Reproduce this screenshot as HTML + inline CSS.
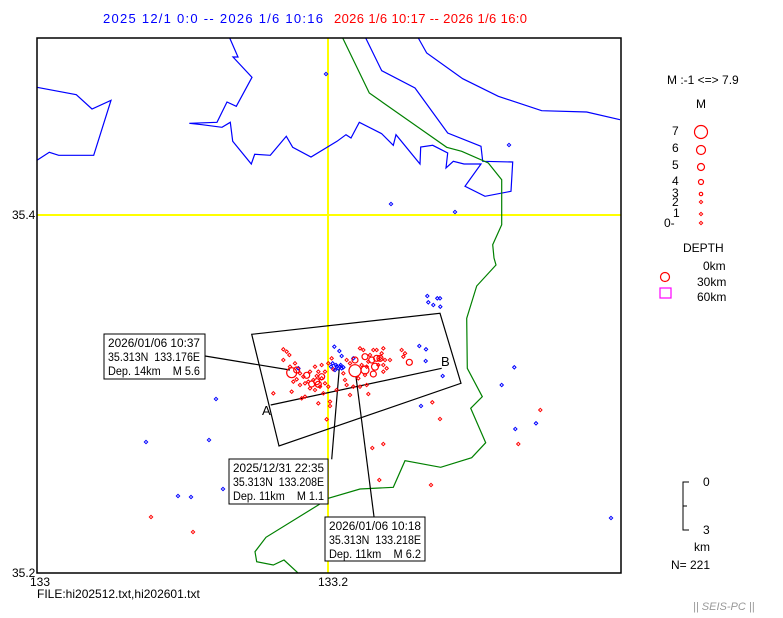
<!DOCTYPE html>
<html><head><meta charset="utf-8"><style>
body{margin:0;background:#fff}
svg{display:block;font-family:"Liberation Sans",sans-serif}
</style></head><body>
<svg id="s" width="783" height="618" xmlns="http://www.w3.org/2000/svg">
<rect width="783" height="618" fill="#fff"/>
<text x="103" y="23" font-size="13" fill="#0000ff" textLength="220" lengthAdjust="spacing">2025 12/1 0:0 -- 2026 1/6 10:16</text>
<text x="334" y="23" font-size="13" fill="#ff0000" textLength="193" lengthAdjust="spacing">2026 1/6 10:17 -- 2026 1/6 16:0</text>
<g fill="none" stroke-width="1.2">
<line x1="328" y1="38" x2="328" y2="573" stroke="#ffff00" stroke-width="2"/>
<line x1="37" y1="215" x2="621" y2="215" stroke="#ffff00" stroke-width="2"/>
<polyline stroke="#0000ff" points="37,87.3 76.3,94.7 92,109 111,100.3 93.7,155.3 58.7,155.3 49.3,152.3 37,160.3"/>
<polyline stroke="#0000ff" points="229.7,38 238,57 233,57 252,77.3 236.3,106.3 227,102 217,122.3 189.3,123.3 202,124.7 222,127.3 230.3,122.3 232.7,141.3 251.3,164 254.7,154.3 270.3,155.3 286.3,136.3 292.7,147.3 311,157 337,141.3 346,134.7 351,138 359.3,122.3 381.7,133.7 393.3,145.3 396,134.7 420,164 420.7,147 432.7,145.3 447.7,153 446,168 453.3,161.3 464,164 481,164 465,186.3 485,196.3 511,191.3 512.7,162 482.7,161.3 481,146.3 447.7,133 415,88 381.7,70.7 365.7,38"/>
<polyline stroke="#0000ff" points="418.3,38 426.7,53 462.7,78.7 498.3,96.3 541.7,110.7 586.7,112 620,119.7"/>
<polyline stroke="#008000" points="342.7,38 369.3,93 446.7,147.3 461.7,151.3 488.3,163 501.7,179.7 501.7,224.7 492.7,244.7 494,258 496,265 476.7,286 466.7,318.3 467.3,368.3 482.3,396.7 470.7,408.3 485.7,442.7 471.7,457.7 440.7,467.3 405,460.7 393.3,487.3 360,489 328.3,498.3 318.3,505 266,537.3 255,551.7 256.7,561.7 273.3,565 284,560 297.7,572.7"/>
</g>
<g fill="none" stroke="#000" stroke-width="1.2">
<polygon points="251.7,334.3 440,313.3 461,383.3 279,446"/>
<line x1="270.7" y1="405" x2="441.7" y2="368.3"/>
<line x1="205" y1="356" x2="290" y2="370"/>
<line x1="339.3" y1="368.3" x2="331.7" y2="459.3"/>
<line x1="356" y1="376.7" x2="374" y2="516.7"/>
</g>
<text x="262" y="415" font-size="13">A</text>
<text x="441" y="366" font-size="13">B</text>
<g id="ev"></g>
<rect x="37" y="38" width="584" height="535" fill="none" stroke="#000" stroke-width="1.5"/>
<g font-size="11.5" fill="#000">
<rect x="104" y="334" width="101" height="45" fill="#fff" stroke="#000"/>
<text x="108" y="347" textLength="92" lengthAdjust="spacingAndGlyphs">2026/01/06 10:37</text><text x="108" y="361" textLength="92" lengthAdjust="spacingAndGlyphs">35.313N&#160;&#160;133.176E</text><text x="108" y="375" textLength="92" lengthAdjust="spacingAndGlyphs">Dep. 14km&#160;&#160;&#160;&#160;M 5.6</text>
<rect x="229" y="459" width="99" height="45" fill="#fff" stroke="#000"/>
<text x="233" y="472" textLength="91" lengthAdjust="spacingAndGlyphs">2025/12/31 22:35</text><text x="233" y="486" textLength="91" lengthAdjust="spacingAndGlyphs">35.313N&#160;&#160;133.208E</text><text x="233" y="500" textLength="91" lengthAdjust="spacingAndGlyphs">Dep. 11km&#160;&#160;&#160;&#160;M 1.1</text>
<rect x="325" y="517" width="100" height="44" fill="#fff" stroke="#000"/>
<text x="329" y="530" textLength="92" lengthAdjust="spacingAndGlyphs">2026/01/06 10:18</text><text x="329" y="544" textLength="92" lengthAdjust="spacingAndGlyphs">35.313N&#160;&#160;133.218E</text><text x="329" y="558" textLength="92" lengthAdjust="spacingAndGlyphs">Dep. 11km&#160;&#160;&#160;&#160;M 6.2</text>
</g>
<g font-size="12" fill="#000">
<text x="12" y="219">35.4</text>
<text x="12" y="577">35.2</text>
<text x="30" y="586">133</text>
<text x="318" y="586">133.2</text>
<text x="37" y="598">FILE:hi202512.txt,hi202601.txt</text>
<text x="667" y="84">M :-1 &lt;=&gt; 7.9</text>
<text x="696" y="108">M</text>
<text x="672" y="135">7</text><text x="672" y="152">6</text><text x="672" y="169">5</text><text x="672" y="185">4</text><text x="672" y="197">3</text><text x="672" y="206">2</text><text x="673" y="217">1</text><text x="664" y="227">0-</text>
<text x="683" y="252">DEPTH</text>
<text x="703" y="270">0km</text><text x="697" y="286">30km</text><text x="697" y="301">60km</text>
<text x="703" y="486">0</text><text x="703" y="534">3</text><text x="694" y="551">km</text>
<text x="671" y="569">N= 221</text>
<text x="693" y="610" font-style="italic" fill="#999" font-size="11">|| SEIS-PC ||</text>
</g>
<g fill="none" stroke="#ff0000" stroke-width="1.2">
<circle cx="701" cy="132" r="6.5"/><circle cx="701" cy="150" r="4.5"/><circle cx="701" cy="167" r="3.5"/><circle cx="701" cy="182" r="2.5"/><circle cx="701" cy="194" r="1.7"/>
<circle cx="665" cy="277" r="4.5"/>
</g>
<rect x="660" y="288" width="11" height="10" fill="none" stroke="#ff00ff" stroke-width="1.2"/>
<polyline points="689,482 683,482 683,530 689,530" fill="none" stroke="#000"/>
<line x1="683" y1="506" x2="687" y2="506" stroke="#000"/>
</svg>
<script>
var g=document.getElementById('ev'),ns="http://www.w3.org/2000/svg";
function dia(x,y,c){var p=document.createElementNS(ns,'polygon');p.setAttribute('points',(x)+','+(y-1.7)+' '+(x+1.7)+','+y+' '+x+','+(y+1.7)+' '+(x-1.7)+','+y);p.setAttribute('fill','none');p.setAttribute('stroke',c);g.appendChild(p);}
function cir(x,y,r){var p=document.createElementNS(ns,'circle');p.setAttribute('cx',x);p.setAttribute('cy',y);p.setAttribute('r',r);p.setAttribute('fill','none');p.setAttribute('stroke','#f00');p.setAttribute('stroke-width','1.2');g.appendChild(p);}
var B=[[326,74],[391,204],[455,212],[509,145],[216,399],[146,442],[209,440],[223,489],[178,496],[191,497],[611,518],[514.3,367.3],[501.7,385],[536,423.3],[515.3,429],[421,406],[442.7,376],[425.7,361],[426,349.3],[419.3,346],[427.3,296],[428.3,302.3],[433.3,305],[437.3,298.3],[440,298.3],[440.3,306.7]];
var R=[[151,517],[193,532],[540.3,410],[518.3,444],[432.3,402.3],[440,419],[383.3,444],[372.3,448],[379.3,480],[431,485]];
var C=[[100,298],[110,305],[100,330],[118,315],[145,355],[140,388],[150,405],[180,415],[165,440],[155,445],[205,460],[240,455],[240,468],[230,508],[70,430],[125,425],[215,345],[225,365],[235,340],[245,325],[250,358],[290,330],[300,340],[330,295],[340,300],[355,335],[390,325],[400,295],[380,300],[400,345],[400,365],[455,300],[465,310],[460,320],[260,420],[290,405],[310,410],[330,410],[350,405],[355,432],[300,435],[235,410],[220,430],[195,350],[205,365],[160,380],[175,395],[190,390],[210,410],[215,385],[280,370],[350,350],[360,315],[385,345],[395,310],[420,330],[135,340],[150,370],[130,395],[165,400],[195,420],[225,400],[285,390],[325,385],[345,375],[405,330],[410,355],[370,300],[335,345],[200,378],[180,365],[120,350]];
var CB=[[253,290],[268,303],[275,318],[248,340],[260,350],[265,355],[255,360],[270,350],[275,355],[280,352],[310,325],[145,355],[243,350],[258,345],[272,345]];
var CC=[[125,368,5],[170,376,3],[185,402,3],[205,403,3],[315,330,3],[345,320,3],[365,330,3],[380,325,3],[375,350,3.5],[370,372,3],[478,337,3],[315,362,6],[390,325,3],[200,395,3],[215,380,3],[140,360,3],[345,360,4]];
B.forEach(function(p){dia(p[0],p[1],'#00f')});
R.forEach(function(p){dia(p[0],p[1],'#f00')});
C.forEach(function(p){dia(250+p[0]/3,250+p[1]/3,'#f00')});
CB.forEach(function(p){dia(250+p[0]/3,250+p[1]/3,'#00f')});
CC.forEach(function(p){cir(250+p[0]/3,250+p[1]/3,p[2])});
[[701,202],[701,214],[701,223]].forEach(function(p){dia(p[0],p[1],'#f00')});
</script>
</body></html>
